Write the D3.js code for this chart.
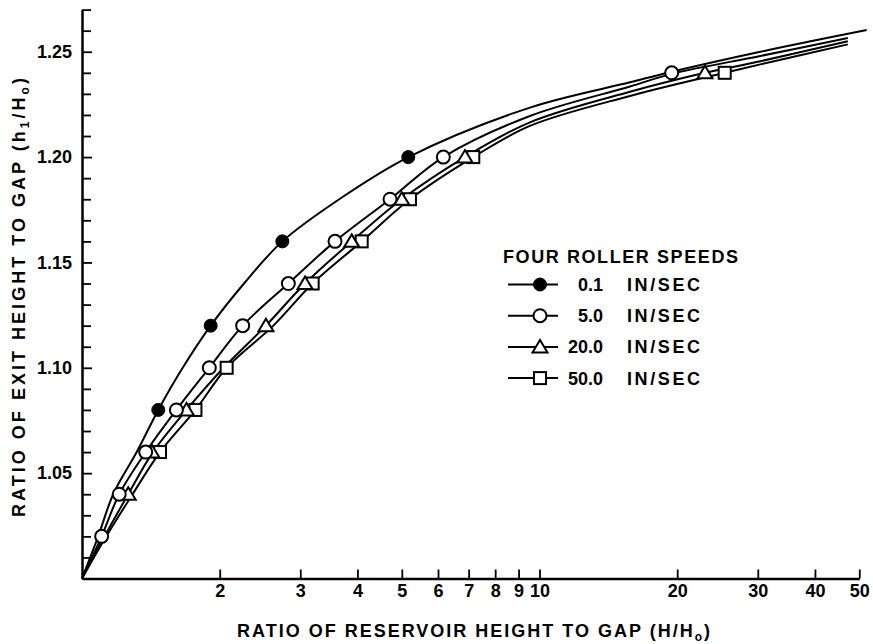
<!DOCTYPE html>
<html>
<head>
<meta charset="utf-8">
<script src="https://cdn.jsdelivr.net/npm/d3@7"></script>
<style>
  html, body { margin: 0; padding: 0; background: #fff; }
  svg { display: block; }
  text { font-family: "Liberation Sans", Arial, sans-serif; font-weight: bold; fill: #000; }
</style>
</head>
<body>
<script>
// Exit height ratio versus reservoir height ratio, four roller speeds.

// Axis ticks
const xTickValues = [2, 3, 4, 5, 6, 7, 8, 9, 10, 20, 30, 40, 50];
const yTickValues = d3.range(0, 28).map(i => +(1 + i / 100).toFixed(2));
const yLabelValues = [1.05, 1.10, 1.15, 1.20, 1.25];

// Series labels
const speedLabels = ["0.1", "5.0", "20.0", "50.0"];

// Faired curves [H/Ho, h1/Ho]
const curve01 = [[1, 1.0], [1.085, 1.02], [1.17, 1.04], [1.317, 1.06], [1.468, 1.08], [1.66, 1.10],
  [1.911, 1.12], [2.26, 1.14], [2.741, 1.16], [3.65, 1.18], [5.17, 1.20], [9.53, 1.2235],
  [15.77, 1.2355], [19.45, 1.2405], [30.4, 1.2500], [51.9, 1.2603]];
const curve50 = [[1, 1.0], [1.104, 1.02], [1.206, 1.04], [1.378, 1.06], [1.608, 1.08], [1.898, 1.10],
  [2.245, 1.12], [2.825, 1.14], [3.573, 1.16], [4.713, 1.18], [6.163, 1.20], [9.53, 1.2195],
  [15.77, 1.2335], [19.45, 1.2395], [30.4, 1.2480], [47.2, 1.2565]];
const curve200 = [[1, 1.0], [1.12, 1.02], [1.262, 1.04], [1.429, 1.06], [1.692, 1.08], [2.04, 1.10],
  [2.524, 1.12], [3.073, 1.14], [3.886, 1.16], [5.0, 1.18], [6.873, 1.20], [9.53, 1.2165],
  [15.77, 1.2310], [23.0, 1.2400], [30.4, 1.2455], [47.2, 1.2550]];
const curve500 = [[1, 1.0], [1.13, 1.02], [1.29, 1.04], [1.481, 1.06], [1.770, 1.08], [2.071, 1.10],
  [2.62, 1.12], [3.193, 1.14], [4.087, 1.16], [5.21, 1.18], [7.166, 1.20], [9.53, 1.2148],
  [15.77, 1.2290], [25.4, 1.2400], [30.4, 1.2440], [47.2, 1.2535]];

// Measured points [H/Ho, h1/Ho]
const points01 = [[1.468, 1.08], [1.911, 1.12], [2.741, 1.16], [5.167, 1.20]];
const points50 = [[1.104, 1.02], [1.206, 1.04], [1.378, 1.06], [1.608, 1.08], [1.898, 1.10],
  [2.245, 1.12], [2.825, 1.14], [3.573, 1.16], [4.713, 1.18], [6.163, 1.20], [19.45, 1.24]];
const points200 = [[1.262, 1.04], [1.422, 1.06], [1.692, 1.08], [2.524, 1.12], [3.073, 1.14],
  [3.886, 1.16], [5.0, 1.18], [6.873, 1.20], [23.0, 1.24]];
const points500 = [[1.481, 1.06], [1.770, 1.08], [2.071, 1.10], [3.193, 1.14], [4.087, 1.16],
  [5.21, 1.18], [7.166, 1.20], [25.4, 1.24]];

const W = 873, H = 644;
const svg = d3.select("body").append("svg").attr("width", W).attr("height", H);

const x = d3.scaleLog().domain([1, 50]).range([82, 82 + 457.5 * Math.log10(50)]);
const y = d3.scaleLinear().domain([1.0, 1.27]).range([578.5, 9.6]);

// ---- axes ----
const isLabeled = d => yLabelValues.some(v => Math.abs(v - d) < 1e-6);
const yAxis = d3.axisLeft(y).tickValues(yTickValues).tickSize(-9).tickSizeOuter(0).tickPadding(10)
  .tickFormat(d => isLabeled(d) ? d3.format(".2f")(d) : "");
const gy = svg.append("g").attr("transform", `translate(${x(1)},0)`).call(yAxis);
gy.selectAll(".tick line").attr("stroke-width", 1.8)
  .attr("x2", d => isLabeled(d) ? 10 : 9);

const xAxis = d3.axisBottom(x).tickValues(xTickValues).tickSize(-9).tickSizeOuter(0).tickPadding(6)
  .tickFormat(d3.format("d"));
const gx = svg.append("g").attr("transform", `translate(0,${y(1.0)})`).call(xAxis);
gx.selectAll(".tick line").attr("stroke-width", 1.8);

[gx, gy].forEach(g => {
  g.attr("font-size", null).attr("font-family", null);
  g.select(".domain").attr("stroke", "#000").attr("stroke-width", 2.5);
  g.selectAll(".tick line").attr("stroke", "#000");
  g.selectAll(".tick text").attr("font-size", 18).attr("fill", "#000");
});

// ---- axis titles ----
const xTitle = svg.append("text")
  .attr("x", 237).attr("y", 637).attr("font-size", 18)
  .attr("textLength", 473).attr("lengthAdjust", "spacing");
xTitle.append("tspan").text("RATIO OF RESERVOIR HEIGHT TO GAP  (H/H");
xTitle.append("tspan").attr("font-size", 12).attr("dy", 4).text("o");
xTitle.append("tspan").attr("dy", -4).text(")");

const yTitle = svg.append("text")
  .attr("transform", "translate(25,517) rotate(-90)")
  .attr("x", 0).attr("y", 0).attr("font-size", 18)
  .attr("textLength", 439).attr("lengthAdjust", "spacing");
yTitle.append("tspan").text("RATIO OF EXIT HEIGHT TO GAP  (h");
yTitle.append("tspan").attr("font-size", 12).attr("dy", 4).text("1");
yTitle.append("tspan").attr("dy", -4).text("/H");
yTitle.append("tspan").attr("font-size", 12).attr("dy", 4).text("o");
yTitle.append("tspan").attr("dy", -4).text(")");

// ---- curves ----
const line = d3.line().x(d => x(d[0])).y(d => y(d[1])).curve(d3.curveCatmullRom.alpha(0.5));
const curves = [curve01, curve50, curve200, curve500];
svg.append("g").selectAll("path").data(curves).join("path")
  .attr("d", line).attr("fill", "none").attr("stroke", "#000").attr("stroke-width", 2);

// ---- markers ----
const markerShapes = {
  filled: g => g.append("circle").attr("r", 6.5).attr("fill", "#000").attr("stroke", "#000").attr("stroke-width", 1),
  circle: g => g.append("circle").attr("r", 6.5).attr("fill", "#fff").attr("stroke", "#000").attr("stroke-width", 2),
  triangle: g => g.append("path").attr("d", "M0,-7L7.5,5.5L-7.5,5.5Z").attr("fill", "#fff").attr("stroke", "#000").attr("stroke-width", 2),
  square: g => g.append("rect").attr("x", -6).attr("y", -6).attr("width", 12).attr("height", 12).attr("fill", "#fff").attr("stroke", "#000").attr("stroke-width", 2)
};
const seriesMarks = [
  { pts: points500, shape: "square" },
  { pts: points200, shape: "triangle" },
  { pts: points50, shape: "circle" },
  { pts: points01, shape: "filled" }
];
seriesMarks.forEach(s => {
  svg.append("g").selectAll("g").data(s.pts).join("g")
    .attr("transform", d => `translate(${x(d[0])},${y(d[1])})`)
    .each(function () { markerShapes[s.shape](d3.select(this)); });
});

// ---- legend ----
const legend = svg.append("g");
legend.append("text").attr("x", 503).attr("y", 263).attr("font-size", 18)
  .attr("textLength", 235).attr("lengthAdjust", "spacing").text("FOUR ROLLER SPEEDS");
const legendShapes = ["filled", "circle", "triangle", "square"];
speedLabels.forEach((lab, i) => {
  const base = 291 + 31.2 * i;
  const cy = base - 6.5;
  const row = legend.append("g");
  row.append("line").attr("x1", 508).attr("x2", 558).attr("y1", cy).attr("y2", cy)
    .attr("stroke", "#000").attr("stroke-width", 2);
  markerShapes[legendShapes[i]](row.append("g").attr("transform", `translate(540,${cy})`));
  row.append("text").attr("x", 603).attr("y", base).attr("font-size", 18)
    .attr("text-anchor", "end").text(lab);
  row.append("text").attr("x", 627).attr("y", base).attr("font-size", 18)
    .attr("textLength", 73).attr("lengthAdjust", "spacing").text("IN/SEC");
});
</script>
</body>
</html>
